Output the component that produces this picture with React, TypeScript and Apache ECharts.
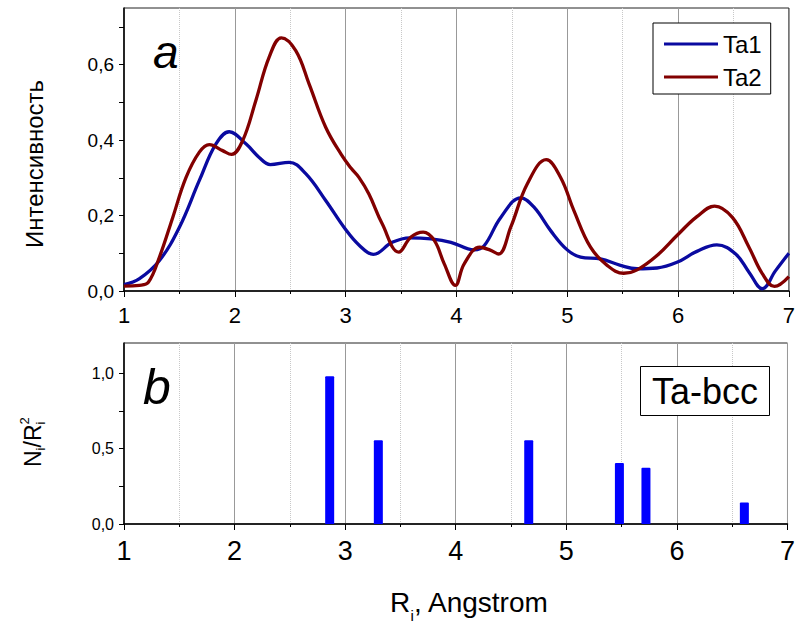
import React, { useEffect, useRef } from "react";
import * as echarts from "echarts";

const FONT = "'Liberation Sans', Arial, Helvetica, sans-serif";

// Intensity curves (top panel)
const ta1R = [1.0, 1.14, 1.32, 1.5, 1.68, 1.83, 1.95, 2.1, 2.22, 2.32, 2.49, 2.64, 2.82, 3.0, 3.12, 3.25, 3.42, 3.58, 3.77, 3.95, 4.16, 4.25, 4.4, 4.58, 4.7, 4.85, 5.0, 5.12, 5.3, 5.48, 5.63, 5.81, 5.99, 6.17, 6.35, 6.52, 6.64, 6.76, 6.88, 7.0];
const ta1V = [0.017, 0.033, 0.081, 0.169, 0.293, 0.39, 0.422, 0.39, 0.354, 0.335, 0.341, 0.311, 0.24, 0.163, 0.122, 0.097, 0.129, 0.141, 0.138, 0.129, 0.109, 0.12, 0.195, 0.247, 0.222, 0.16, 0.109, 0.09, 0.085, 0.068, 0.059, 0.061, 0.076, 0.105, 0.122, 0.098, 0.05, 0.006, 0.054, 0.1];

const ta2R = [1.0, 1.14, 1.22, 1.32, 1.44, 1.56, 1.68, 1.77, 1.89, 1.97, 2.07, 2.19, 2.31, 2.42, 2.55, 2.67, 2.82, 2.96, 3.05, 3.12, 3.21, 3.33, 3.48, 3.59, 3.7, 3.8, 3.89, 3.99, 4.07, 4.21, 4.3, 4.38, 4.49, 4.64, 4.81, 4.94, 5.06, 5.21, 5.36, 5.51, 5.63, 5.81, 5.99, 6.17, 6.33, 6.49, 6.64, 6.76, 6.87, 7.0];
const ta2V = [0.013, 0.015, 0.023, 0.09, 0.195, 0.301, 0.368, 0.388, 0.372, 0.362, 0.398, 0.505, 0.62, 0.671, 0.637, 0.549, 0.434, 0.362, 0.325, 0.301, 0.257, 0.178, 0.103, 0.143, 0.156, 0.134, 0.072, 0.015, 0.072, 0.116, 0.109, 0.098, 0.169, 0.284, 0.348, 0.301, 0.213, 0.116, 0.068, 0.047, 0.056, 0.094, 0.147, 0.197, 0.225, 0.195, 0.116, 0.046, 0.012, 0.038];

// Ta-bcc coordination shells (bottom panel)
const shellR = [2.86, 3.3, 4.66, 5.48, 5.72, 6.61];
const shellW = [0.98, 0.555, 0.555, 0.405, 0.373, 0.143];

// Axis ticks and labels
const xTicks = [1, 2, 3, 4, 5, 6, 7];
const yTopTicks = [0, 0.1, 0.2, 0.3, 0.4, 0.5, 0.6, 0.7];
const yTopLabels = [0, 0.2, 0.4, 0.6];
const yBotTicks = [0, 0.25, 0.5, 0.75, 1.0];
const yBotLabels = [0, 0.5, 1.0];

const zip = (xs: number[], ys: number[]) => xs.map((x, i) => [x, ys[i]]);
const comma = (v: number) => v.toFixed(1).replace(".", ",");

function xAxisFor(gridIndex: number, fontSize: number) {
  return {
    type: "value",
    gridIndex,
    min: xTicks[0],
    max: xTicks[xTicks.length - 1],
    interval: 1,
    axisLine: { show: true, onZero: false, lineStyle: { color: "#000", width: 1.5 } },
    axisTick: { show: true, inside: false, length: 6, lineStyle: { color: "#000", width: 1 } },
    minorTick: { show: true, splitNumber: 2, length: 3, lineStyle: { color: "#000", width: 1 } },
    splitLine: { show: true, lineStyle: { color: "#999", width: 1 } },
    minorSplitLine: { show: true, lineStyle: { color: "#c8c8c8", width: 1, type: "dotted" } },
    axisLabel: { fontSize, color: "#000", margin: 13, fontFamily: FONT },
  };
}

function yAxisFor(gridIndex: number, max: number, step: number, ticks: number[], labels: number[], fontSize: number) {
  return {
    type: "value",
    gridIndex,
    min: 0,
    max,
    interval: step,
    splitLine: { show: false },
    axisLine: { show: true, onZero: false, lineStyle: { color: "#000", width: 1.5 } },
    axisTick: { show: true, inside: false, length: 5, customValues: ticks, lineStyle: { color: "#000", width: 1 } },
    axisLabel: {
      show: true,
      customValues: labels,
      fontSize,
      color: "#000",
      margin: 10,
      fontFamily: FONT,
      formatter: (v: number) => (labels.some((l) => Math.abs(l - v) < 1e-6) ? comma(v) : ""),
    },
  };
}

export default function App() {
  const ref = useRef<HTMLDivElement>(null);

  useEffect(() => {
    if (!ref.current) return;
    const chart = echarts.init(ref.current, undefined, { renderer: "svg" });

    const base = (fs: number) => -0.3465 * fs; // central-to-baseline offset

    chart.setOption({
      animation: false,
      backgroundColor: "#fff",
      textStyle: { fontFamily: FONT },
      grid: [
        { left: 124, top: 8, right: 5, height: 283, show: true, borderColor: "#222", borderWidth: 1, backgroundColor: "transparent" },
        { left: 124, top: 343, right: 5, height: 181, show: true, borderColor: "#222", borderWidth: 1, backgroundColor: "transparent" },
      ],
      xAxis: [xAxisFor(0, 22), xAxisFor(1, 27)],
      yAxis: [
        yAxisFor(0, 0.75, 0.1, yTopTicks, yTopLabels, 19),
        yAxisFor(1, 1.2, 0.25, yBotTicks, yBotLabels, 16),
      ],
      legend: {
        data: ["Ta1", "Ta2"],
        orient: "vertical",
        left: 653,
        top: 23,
        padding: [9, 9, 5, 11],
        itemGap: 9,
        itemWidth: 54,
        itemHeight: 3,
        icon: "rect",
        backgroundColor: "#fff",
        borderColor: "#000",
        borderWidth: 1,
        borderRadius: 0,
        textStyle: { fontSize: 24, lineHeight: 20, color: "#000", fontFamily: FONT },
      },
      series: [
        {
          name: "Ta1",
          type: "line",
          xAxisIndex: 0,
          yAxisIndex: 0,
          data: zip(ta1R, ta1V),
          smooth: 0.4,
          symbol: "none",
          showSymbol: false,
          lineStyle: { color: "#0a0aa0", width: 3.3 },
          itemStyle: { color: "#0a0aa0" },
          z: 3,
        },
        {
          name: "Ta2",
          type: "line",
          xAxisIndex: 0,
          yAxisIndex: 0,
          data: zip(ta2R, ta2V),
          smooth: 0.4,
          symbol: "none",
          showSymbol: false,
          lineStyle: { color: "#820000", width: 3.3 },
          itemStyle: { color: "#820000" },
          z: 3,
        },
        {
          name: "Ta-bcc",
          type: "bar",
          xAxisIndex: 1,
          yAxisIndex: 1,
          data: zip(shellR, shellW),
          barWidth: 9,
          itemStyle: { color: "#0000ff", borderRadius: [1, 1, 0, 0] },
          z: 3,
        },
      ],
      graphic: [
        {
          type: "text",
          x: 153,
          y: 68 + base(46),
          z: 10,
          style: { text: "a", fontSize: 46, fontStyle: "italic", fontFamily: FONT, fill: "#000", align: "left", verticalAlign: "middle" },
        },
        {
          type: "text",
          x: 143,
          y: 404 + base(50),
          z: 10,
          style: { text: "b", fontSize: 50, fontStyle: "italic", fontFamily: FONT, fill: "#000", align: "left", verticalAlign: "middle" },
        },
        {
          type: "rect",
          z: 10,
          shape: { x: 640.5, y: 366.5, width: 129, height: 49 },
          style: { fill: "#fff", stroke: "#000", lineWidth: 1 },
        },
        {
          type: "text",
          x: 705,
          y: 404 + base(36),
          z: 11,
          style: { text: "Ta-bcc", fontSize: 36, fontFamily: FONT, fill: "#000", align: "center", verticalAlign: "middle" },
        },
        {
          type: "text",
          x: 42.7 + base(24),
          y: 164,
          rotation: Math.PI / 2,
          z: 10,
          style: { text: "Интенсивность", fontSize: 24, fontFamily: FONT, fill: "#000", align: "center", verticalAlign: "middle" },
        },
        {
          type: "group",
          x: 40.5,
          y: 467,
          rotation: Math.PI / 2,
          z: 10,
          children: [
            { type: "text", x: 0, y: base(23), style: { text: "N", fontSize: 23, fontFamily: FONT, fill: "#000", align: "left", verticalAlign: "middle" } },
            { type: "text", x: 16.6, y: 5 + base(13), style: { text: "i", fontSize: 13, fontFamily: FONT, fill: "#000", align: "left", verticalAlign: "middle" } },
            { type: "text", x: 19.5, y: base(23), style: { text: "/", fontSize: 23, fontFamily: FONT, fill: "#000", align: "left", verticalAlign: "middle" } },
            { type: "text", x: 25.9, y: base(23), style: { text: "R", fontSize: 23, fontFamily: FONT, fill: "#000", align: "left", verticalAlign: "middle" } },
            { type: "text", x: 42.5, y: 5 + base(13), style: { text: "i", fontSize: 13, fontFamily: FONT, fill: "#000", align: "left", verticalAlign: "middle" } },
            { type: "text", x: 42.5, y: -11 + base(13), style: { text: "2", fontSize: 13, fontFamily: FONT, fill: "#000", align: "left", verticalAlign: "middle" } },
          ],
        },
        {
          type: "text",
          x: 390,
          y: 612 + base(28),
          z: 10,
          style: { text: "R", fontSize: 28, fontFamily: FONT, fill: "#000", align: "left", verticalAlign: "middle" },
        },
        {
          type: "text",
          x: 410.5,
          y: 621 + base(15),
          z: 10,
          style: { text: "i", fontSize: 15, fontFamily: FONT, fill: "#000", align: "left", verticalAlign: "middle" },
        },
        {
          type: "text",
          x: 414,
          y: 612 + base(28),
          z: 10,
          style: { text: ", Angstrom", fontSize: 28, fontFamily: FONT, fill: "#000", align: "left", verticalAlign: "middle" },
        },
      ],
    });

    return () => chart.dispose();
  }, []);

  return (
    <div
      ref={ref}
      style={{ position: "fixed", left: 0, top: 0, width: 798, height: 625, background: "#fff" }}
    />
  );
}
